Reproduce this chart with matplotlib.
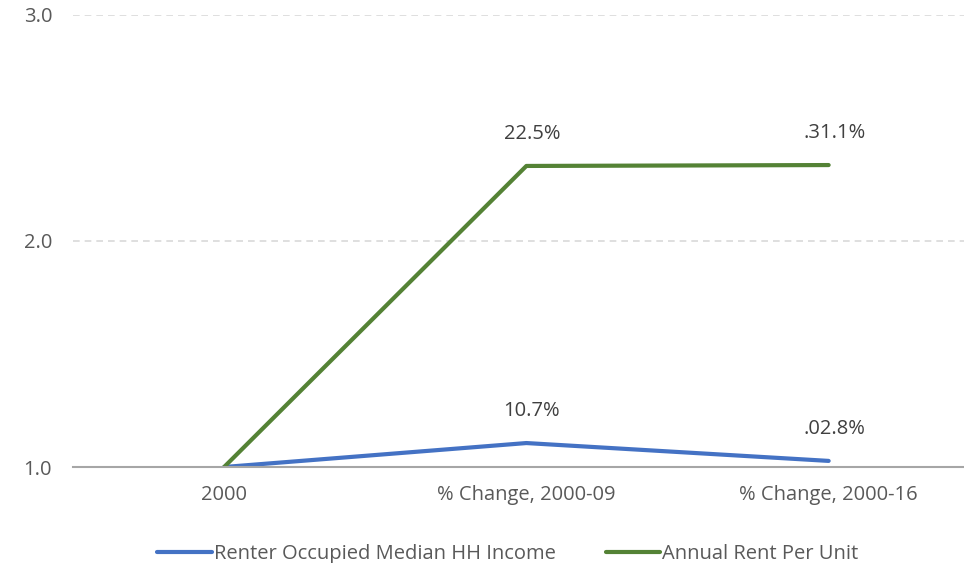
import matplotlib
matplotlib.use("Agg")
import matplotlib.pyplot as plt

categories = ['2000', '% Change, 2000-09', '% Change, 2000-16']
income = [1.0, 1.106, 1.027]
rent = [1.0, 2.332, 2.336]
income_labels = ['', '10.7%', '.02.8%']
rent_labels = ['', '22.5%', '.31.1%']

plt.rcParams['font.family'] = ['Open Sans', 'DejaVu Sans']
grey = '#595959'
fs = 14.5

fig = plt.figure(figsize=(9.64, 5.63), dpi=100)
ax = fig.add_axes([0.0757, 0.1705, 0.925, 0.8029])

x = range(len(categories))
ax.plot(x, income, color='#4472C4', lw=3, label='Renter Occupied Median HH Income', solid_capstyle='round')
ax.plot(x, rent, color='#548235', lw=3, label='Annual Rent Per Unit', solid_capstyle='round')

for i in x:
    if income_labels[i]:
        ax.annotate(income_labels[i], (i, income[i]), xytext=(4, 23), textcoords='offset points',
                    ha='center', va='center', fontsize=fs, color='#404040')
    if rent_labels[i]:
        ax.annotate(rent_labels[i], (i, rent[i]), xytext=(4, 23), textcoords='offset points',
                    ha='center', va='center', fontsize=fs, color='#404040')

ax.set_xlim(-0.5, 2.45)
ax.set_ylim(1.0, 3.0)
ax.set_yticks([1.0, 2.0, 3.0])
ax.set_yticklabels(['1.0', '2.0', '3.0'])
ax.set_xticks(list(x))
ax.set_xticklabels(categories)
ax.tick_params(length=0, labelsize=fs, colors=grey)
ax.tick_params(axis='x', pad=13)
ax.tick_params(axis='y', pad=15)

for s in ['top', 'right', 'left']:
    ax.spines[s].set_visible(False)
ax.spines['bottom'].set_color('#A6A6A6')
ax.spines['bottom'].set_linewidth(1.5)
ax.grid(axis='y', color='#D9D9D9', linestyle=(0, (4, 3)), lw=1.2)
ax.set_axisbelow(True)

leg = ax.legend(loc='lower center', bbox_to_anchor=(0.488, -0.255), ncol=2, frameon=False,
                fontsize=fs, handlelength=2.7, handletextpad=0.1, columnspacing=2.5)
for t in leg.get_texts():
    t.set_color(grey)

fig.savefig('out.png', dpi=100)
